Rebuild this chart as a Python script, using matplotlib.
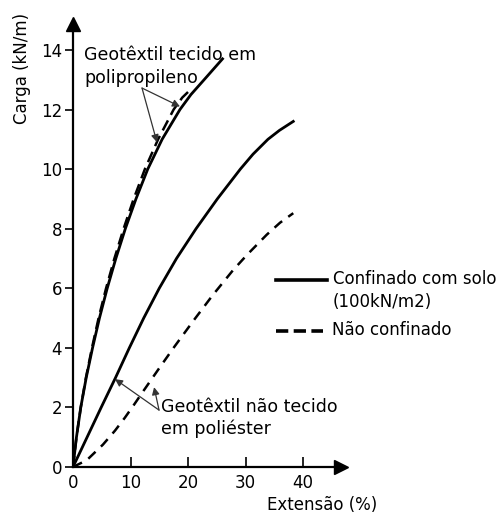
import matplotlib
matplotlib.use("Agg")
import matplotlib.pyplot as plt
from matplotlib.lines import Line2D

# Load-extension curves (extension %, load kN/m)
pp_conf_x = [0, 0.6, 1.35, 2.3, 3.4, 4.6, 5.95, 7.45, 9.1, 10.95, 13.0, 15.5, 18.6, 20.5, 22.8, 26.0]
pp_conf_y = [0, 1, 2, 3, 4, 5, 6, 7, 8, 9, 10, 11, 12, 12.5, 13.0, 13.7]

pp_free_x = [0, 0.6, 1.35, 2.25, 3.3, 4.45, 5.75, 7.2, 8.8, 10.55, 12.5, 14.8, 17.5, 19.0, 20.6]
pp_free_y = [0, 1, 2, 3, 4, 5, 6, 7, 8, 9, 10, 11, 12, 12.4, 12.7]

pe_conf_x = [0, 2.45, 4.9, 7.4, 9.8, 12.3, 15.0, 18.0, 21.4, 25.1, 29.1, 31.3, 33.9, 35.9, 38.3]
pe_conf_y = [0, 1, 2, 3, 4, 5, 6, 7, 8, 9, 10, 10.5, 11.0, 11.3, 11.6]

pe_free_x = [0, 2.4, 5.2, 7.3, 9.0, 10.5, 12.2, 15.0, 17.6, 20.9, 24.3, 27.8, 30.3, 33.7, 36.0, 38.3]
pe_free_y = [0, 0.23, 0.75, 1.22, 1.65, 2.06, 2.54, 3.32, 4.03, 4.9, 5.77, 6.6, 7.13, 7.8, 8.2, 8.52]

x_ticks = [0, 10, 20, 30, 40]
y_ticks = [0, 2, 4, 6, 8, 10, 12, 14]

W, H = 502, 518
FS = 12
FS_NOTE = 12.5


def px(x, y):
    """pixel position (from top-left) -> figure fraction"""
    return x / W, 1 - y / H


plt.rcParams['font.family'] = ['DejaVu Sans']
fig = plt.figure(figsize=(W / 100, H / 100), dpi=100)
ax = fig.add_axes([73 / W, (H - 467) / H, (341 - 73) / W, (467 - 24) / H])

dash_lw = 1.8
ax.plot(pp_conf_x, pp_conf_y, color='black', lw=2.0, solid_joinstyle='round')
ax.plot(pp_free_x, pp_free_y, color='black', lw=dash_lw, linestyle=(0, (4.5, 2.5)))
ax.plot(pe_conf_x, pe_conf_y, color='black', lw=2.0, solid_joinstyle='round')
ax.plot(pe_free_x, pe_free_y, color='black', lw=dash_lw, linestyle=(0, (4, 3)))

ax.set_xlim(0, 46.6)
ax.set_ylim(0, 14.87)
ax.set_xticks(x_ticks)
ax.set_yticks(y_ticks)

for s in ['top', 'right']:
    ax.spines[s].set_visible(False)
for s in ['left', 'bottom']:
    ax.spines[s].set_linewidth(1.6)

ax.tick_params(axis='x', direction='in', length=7, width=1.2, pad=5, labelsize=FS)
ax.tick_params(axis='y', direction='out', length=6, width=1.2, pad=2, labelsize=FS)

# arrow heads on the axes
ax.plot(1, 0, marker='>', color='black', ms=10, transform=ax.transAxes, clip_on=False)
ax.plot(0, 1, marker='^', color='black', ms=10, transform=ax.transAxes, clip_on=False)

fig.text(*px(22, 68), 'Carga (kN/m)', rotation=90, ha='center', va='center', fontsize=FS)
fig.text(*px(322, 505), 'Extensão (%)', ha='center', va='center', fontsize=FS)

# curve annotations
fig.text(*px(84, 55), 'Geotêxtil tecido em', ha='left', va='center', fontsize=FS_NOTE)
fig.text(*px(84, 78), 'polipropileno', ha='left', va='center', fontsize=FS_NOTE)
fig.text(*px(161, 407), 'Geotêxtil não tecido', ha='left', va='center', fontsize=FS_NOTE)
fig.text(*px(161, 429), 'em poliéster', ha='left', va='center', fontsize=FS_NOTE)

arrow_kw = dict(arrowstyle='-|>', lw=0.9, color='#333333', mutation_scale=11,
                shrinkA=0, shrinkB=0)
for tip in [(18.6, 12.1), (14.6, 10.9)]:
    ax.annotate('', xy=tip, xytext=(12.0, 12.72), arrowprops=arrow_kw, annotation_clip=False)
for tip in [(7.3, 2.95), (14.1, 2.68)]:
    ax.annotate('', xy=tip, xytext=(14.96, 1.91), arrowprops=arrow_kw, annotation_clip=False)

# legend
x0, _ = px(276, 0)
x1, _ = px(327, 0)
_, ys = px(0, 280)
_, yd = px(0, 331)
fig.add_artist(Line2D([x0, x1], [ys, ys], color='black', lw=2.6, transform=fig.transFigure))
fig.add_artist(Line2D([x0, px(323, 0)[0]], [yd, yd], color='black', lw=2.6,
                      linestyle=(0, (3.4, 1.5)), transform=fig.transFigure))
fig.text(*px(333, 279), 'Confinado com solo', ha='left', va='center', fontsize=FS)
fig.text(*px(333, 302), '(100kN/m2)', ha='left', va='center', fontsize=FS)
fig.text(*px(332, 330), 'Não confinado', ha='left', va='center', fontsize=FS)

fig.savefig('out.png', dpi=100)
plt.close(fig)
